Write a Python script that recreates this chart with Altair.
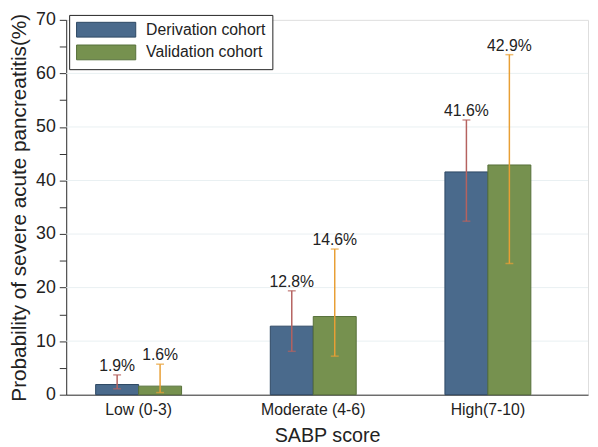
import altair as alt
import pandas as pd

groups = ["Low (0-3)", "Moderate (4-6)", "High(7-10)"]
cohorts = ["Derivation cohort", "Validation cohort"]
deriv_vals = [1.9, 12.8, 41.6]
deriv_lo = [1.1, 8.1, 32.4]
deriv_hi = [3.7, 19.4, 51.3]
valid_vals = [1.6, 14.6, 42.9]
valid_lo = [0.4, 7.2, 24.5]
valid_hi = [5.7, 27.2, 63.5]
grid_vals = [10, 20, 30, 40, 50, 60]
tick_vals = [0, 5, 10, 15, 20, 25, 30, 35, 40, 45, 50, 55, 60, 65, 70]

rows = []
for i, g in enumerate(groups):
    rows.append(dict(group=g, cohort=cohorts[0], value=deriv_vals[i], lo=deriv_lo[i], hi=deriv_hi[i],
                     label=f"{deriv_vals[i]}%"))
    rows.append(dict(group=g, cohort=cohorts[1], value=valid_vals[i], lo=valid_lo[i], hi=valid_hi[i],
                     label=f"{valid_vals[i]}%"))
df = pd.DataFrame(rows)
grid_df = pd.DataFrame({"g": grid_vals})

FONT = "Liberation Sans"

x_enc = alt.X("group:N", sort=groups,
              scale=alt.Scale(paddingInner=0.508, paddingOuter=0.248, align=0.34),
              axis=alt.Axis(title="SABP score", labelAngle=0, ticks=False, domainColor="#333",
                            labelFontSize=16, titleFontSize=20, labelPadding=7, titlePadding=8,
                            labelColor="#222", titleColor="#222", titleFontWeight="normal"))
xo_enc = alt.XOffset("cohort:N", sort=cohorts, scale=alt.Scale(paddingInner=0, paddingOuter=0))
y_scale = alt.Scale(domain=[0, 70], nice=False)
y_axis = alt.Axis(title="Probability of severe acute pancreatitis(%)", values=tick_vals,
                  labelExpr="datum.value % 10 == 0 ? datum.label : ''",
                  grid=False, tickSize=7, tickColor="#333", domainColor="#333",
                  labelFontSize=18, titleFontSize=21, labelPadding=4, titlePadding=6,
                  labelColor="#222", titleColor="#222", titleFontWeight="normal")

grid = alt.Chart(grid_df).mark_rule(color="#e9f0f2", strokeWidth=1).encode(
    y=alt.Y("g:Q", scale=y_scale, axis=y_axis)
)

bars = alt.Chart(df).mark_bar(strokeWidth=1).encode(
    x=x_enc,
    xOffset=xo_enc,
    y=alt.Y("value:Q", scale=y_scale, axis=y_axis),
    color=alt.Color("cohort:N", sort=cohorts,
                    scale=alt.Scale(domain=cohorts, range=["#4a6a8c", "#76914f"]),
                    legend=alt.Legend(title=None, orient="none", legendX=3, legendY=-5,
                                      symbolType="M-1,-1L7,-1L7,1L-1,1Z",
                                      symbolSize=225, symbolStrokeWidth=1,
                                      labelFontSize=16, labelColor="#222", labelOffset=55,
                                      labelFont=FONT,
                                      strokeColor="#222", fillColor="white", padding=7,
                                      rowPadding=3)),
    stroke=alt.Stroke("cohort:N", sort=cohorts,
                      scale=alt.Scale(domain=cohorts, range=["#2d4763", "#56703a"]), legend=None),
)

err_color = alt.Color("cohort:N", sort=cohorts,
                      scale=alt.Scale(domain=cohorts, range=["#b5625f", "#e89f35"]), legend=None)

rules = alt.Chart(df).mark_rule(strokeWidth=1.5).encode(
    x=x_enc, xOffset=xo_enc,
    y=alt.Y("lo:Q", scale=y_scale, axis=y_axis), y2="hi:Q",
    stroke=alt.Stroke("cohort:N", sort=cohorts,
                      scale=alt.Scale(domain=cohorts, range=["#b5625f", "#e89f35"]), legend=None),
)
cap_hi = alt.Chart(df).mark_tick(orient="horizontal", size=8, thickness=1.5).encode(
    x=x_enc, xOffset=xo_enc, y=alt.Y("hi:Q", scale=y_scale, axis=y_axis), color=err_color
)
cap_lo = alt.Chart(df).mark_tick(orient="horizontal", size=8, thickness=1.5).encode(
    x=x_enc, xOffset=xo_enc, y=alt.Y("lo:Q", scale=y_scale, axis=y_axis), color=err_color
)
labels = alt.Chart(df).mark_text(fontSize=16, color="#222", baseline="alphabetic", dy=-4, font=FONT).encode(
    x=x_enc, xOffset=xo_enc, y=alt.Y("hi:Q", scale=y_scale, axis=y_axis), text="label:N"
)

chart = alt.layer(grid, bars, rules, cap_hi, cap_lo, labels).resolve_scale(
    color="independent", stroke="independent"
).properties(
    width=529, height=380,
    autosize=alt.AutoSizeParams(type="none"),
    padding={"left": 59, "top": 9, "right": 2, "bottom": 50},
).configure_view(stroke=None).configure(font=FONT)

chart.save("out.html", embed_options={"renderer": "svg", "actions": False})
